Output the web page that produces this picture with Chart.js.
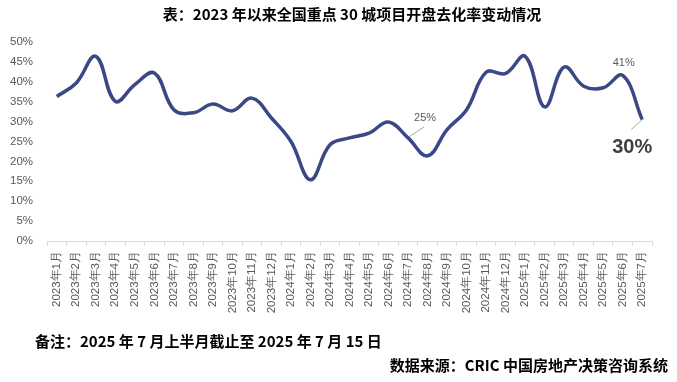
<!DOCTYPE html>
<html><head><meta charset="utf-8">
<script src="https://cdn.jsdelivr.net/npm/chart.js@4"></script>
<style>
html,body{margin:0;padding:0;background:#fff;}
#wrap{position:relative;width:677px;height:382px;overflow:hidden;}
canvas{position:absolute;left:0;top:0;}
.t{position:absolute;font-family:"Noto Sans CJK SC","DejaVu Sans",sans-serif;font-weight:bold;color:#000;white-space:nowrap;line-height:1;}
</style></head>
<body><div id="wrap">
<canvas id="c" width="677" height="382"></canvas>
<div class="t" id="title" style="left:0;width:704px;text-align:center;top:6px;font-size:15px;">表：2023 年以来全国重点 30 城项目开盘去化率变动情况</div>
<div class="t" style="left:35px;top:333px;font-size:15px;">备注：2025 年 7 月上半月截止至 2025 年 7 月 15 日</div>
<div class="t" style="right:9px;top:357px;font-size:15px;">数据来源：CRIC 中国房地产决策咨询系统</div>
</div>
<script>
const categories = ["2023年1月","2023年2月","2023年3月","2023年4月","2023年5月","2023年6月","2023年7月","2023年8月","2023年9月","2023年10月","2023年11月","2023年12月","2024年1月","2024年2月","2024年3月","2024年4月","2024年5月","2024年6月","2024年7月","2024年8月","2024年9月","2024年10月","2024年11月","2024年12月","2025年1月","2025年2月","2025年3月","2025年4月","2025年5月","2025年6月","2025年7月"];
const rates = [36.3,39.7,46.4,35.1,39.3,42.2,33.0,32.2,34.4,32.7,35.9,30.9,25.0,15.4,24.2,25.9,27.1,29.9,25.9,21.4,28.0,33.0,42.4,42.1,46.4,33.7,43.7,38.9,38.5,41.6,30.5];
const yTicks = [0,5,10,15,20,25,30,35,40,45,50];
const labelled = [
  {i:18, text:"25%", dx:17, dy:-20, size:11, bold:false, leader:[1,-1,16,-11]},
  {i:29, text:"41%", dx:1, dy:-12, size:11, bold:false, leader:null},
  {i:30, text:"30%", dx:-10, dy:28, size:20, bold:true, leader:[0,0,-11,10]}
];

const labelPlugin = {
  id:'labels',
  afterDatasetsDraw(chart){
    const ctx = chart.ctx, xs = chart.scales.x, ys = chart.scales.y;
    labelled.forEach(l=>{
      const px = xs.getPixelForValue(l.i), py = ys.getPixelForValue(rates[l.i]);
      ctx.save();
      if(l.leader){
        ctx.strokeStyle = '#a6a6a6'; ctx.lineWidth = 1;
        ctx.beginPath();
        ctx.moveTo(px + l.leader[0], py + l.leader[1]);
        ctx.lineTo(px + l.leader[2], py + l.leader[3]);
        ctx.stroke();
      }
      ctx.fillStyle = l.bold ? '#404040' : '#595959';
      ctx.font = (l.bold?'bold ':'') + l.size + 'px "Liberation Sans", Arial, sans-serif';
      ctx.textAlign = 'center'; ctx.textBaseline = 'middle';
      ctx.fillText(l.text, px + l.dx, py + l.dy);
      ctx.restore();
    });
  }
};

new Chart(document.getElementById('c'), {
  type:'line',
  data:{labels:categories, datasets:[{data:rates, borderColor:'#3B4886', borderWidth:3.5, pointRadius:0, tension:0.4, fill:false}]},
  options:{
    responsive:false, animation:false,
    layout:{padding:{left:0,right:25,top:42,bottom:0}},
    plugins:{legend:{display:false}, tooltip:{enabled:false}, title:{display:false}},
    scales:{
      y:{min:0,max:50,
        afterBuildTicks(s){ s.ticks = yTicks.map(v=>({value:v})); },
        afterFit(s){ s.width = 47; },
        grid:{display:false}, border:{display:false},
        ticks:{callback:v=>v+'%', color:'#595959', font:{family:'"Liberation Sans", Arial, sans-serif', size:11.5}, padding:6}
      },
      x:{offset:true,
        afterFit(s){ s.height = 141; },
        grid:{offset:true, drawOnChartArea:false, drawTicks:true, tickLength:5, color:'#d9d9d9'},
        border:{display:true, color:'#d9d9d9'},
        ticks:{autoSkip:false, maxRotation:90, minRotation:90, color:'#595959', font:{family:'"Liberation Sans", Arial, sans-serif', size:11.5}, padding:5}
      }
    }
  },
  plugins:[labelPlugin]
});
</script>
</body></html>
